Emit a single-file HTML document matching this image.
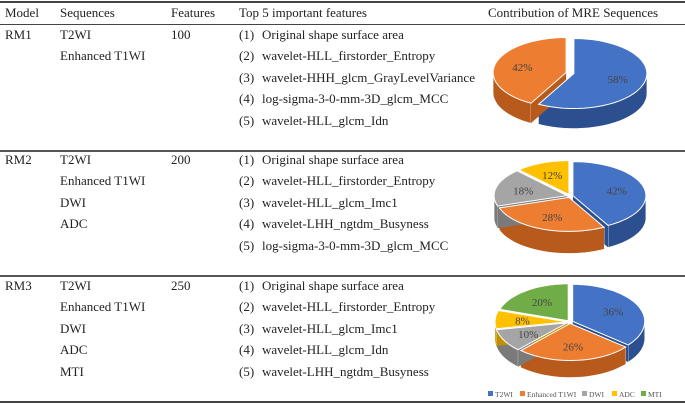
<!DOCTYPE html>
<html><head><meta charset="utf-8">
<style>
body{margin:0;background:#fff;}
#wrap{position:relative;width:685px;height:404px;overflow:hidden;font-family:"Liberation Serif",serif;font-size:13px;color:#222;}
.t{position:absolute;white-space:nowrap;line-height:14px;}
.rule{position:absolute;left:0;width:685px;background:#444;}
svg{position:absolute;left:0;top:0;}
</style></head><body>
<div id="wrap">
<div class="rule" style="top:1px;height:2px;"></div>
<div class="rule" style="top:24px;height:1px;"></div>
<div class="rule" style="top:150px;height:2px;background:#555"></div>
<div class="rule" style="top:275px;height:2px;background:#555"></div>
<div class="rule" style="top:401px;height:2px;"></div>
<div id="txt"></div>
<svg id="pies" width="685" height="404"></svg>
</div>
<script>
const headers=[["Model",5],["Sequences",60],["Features",171],["Top 5 important features",239],["Contribution of MRE Sequences",488]];
const models=["RM1","RM2","RM3"];
const featureCounts=["100","200","250"];
const sequences=[["T2WI","Enhanced T1WI"],["T2WI","Enhanced T1WI","DWI","ADC"],["T2WI","Enhanced T1WI","DWI","ADC","MTI"]];
const topFeatures=[
["Original shape surface area","wavelet-HLL_firstorder_Entropy","wavelet-HHH_glcm_GrayLevelVariance","log-sigma-3-0-mm-3D_glcm_MCC","wavelet-HLL_glcm_Idn"],
["Original shape surface area","wavelet-HLL_firstorder_Entropy","wavelet-HLL_glcm_Imc1","wavelet-LHH_ngtdm_Busyness","log-sigma-3-0-mm-3D_glcm_MCC"],
["Original shape surface area","wavelet-HLL_firstorder_Entropy","wavelet-HLL_glcm_Imc1","wavelet-HLL_glcm_Idn","wavelet-LHH_ngtdm_Busyness"]];
const seqNames=["T2WI","Enhanced T1WI","DWI","ADC","MTI"];
const pie1=[58,42];
const pie2=[42,28,18,12];
const pie3=[36,26,10,8,20];

const txt=document.getElementById('txt');
function addT(s,x,y,name,extra){
  const d=document.createElement('div');d.className='t';d.textContent=s;
  d.style.left=x+'px';d.style.top=y+'px';if(extra)d.style.cssText+=extra;
  
  
  txt.appendChild(d);
}
headers.forEach(h=>addT(h[0],h[1],6,'header-'+h[0].toLowerCase().replace(/\s+/g,'-')));
const rowTop=[28,153,279];const step=21.4;
models.forEach((m,i)=>{
  addT(m,5,rowTop[i],'model-'+m.toLowerCase());
  addT(featureCounts[i],171,rowTop[i],'features-'+m.toLowerCase());
  sequences[i].forEach((s,j)=>addT(s,60,rowTop[i]+j*step,'sequence-'+m.toLowerCase()+'-'+(j+1)));
  topFeatures[i].forEach((f,j)=>{
    addT('('+(j+1)+')',239,rowTop[i]+j*step,'feature-num-'+m.toLowerCase()+'-'+(j+1));
    addT(f,262,rowTop[i]+j*step,'feature-'+m.toLowerCase()+'-'+(j+1));
  });
});

const colors=["#4472C4","#ED7D31","#A5A5A5","#FFC000","#70AD47"];
const sides=["#2c4f8f","#b85a1c","#7a7a7a","#c09000","#4f8030"];
const svg=document.getElementById('pies');const NS='http://www.w3.org/2000/svg';
function el(t,a){const e=document.createElementNS(NS,t);for(const k in a)e.setAttribute(k,a[k]);svg.appendChild(e);return e;}
function drawPie(vals,cx,cy,rx,ry,depth,explode,id){
  const tot=vals.reduce((a,b)=>a+b,0);let a=0;const sl=[];
  vals.forEach((v,i)=>{const a0=a,a1=a+v/tot*360;a=a1;const m=(a0+a1)/2*Math.PI/180;
    sl.push({i,a0,a1,ox:explode*Math.sin(m),oy:-explode*0.5*Math.cos(m),v});});
  const P=(s,deg,dy)=>{const r=deg*Math.PI/180;return [cx+s.ox+rx*Math.sin(r),cy+s.oy-ry*Math.cos(r)+(dy||0)];};
  sl.forEach(s=>{
    const lo=Math.max(s.a0,90),hi=Math.min(s.a1,270);
    if(hi>lo){
      let d='';const n=30;
      for(let k=0;k<=n;k++){const p=P(s,lo+(hi-lo)*k/n);d+=(k?'L':'M')+p[0].toFixed(1)+','+p[1].toFixed(1);}
      for(let k=n;k>=0;k--){const p=P(s,lo+(hi-lo)*k/n,depth);d+='L'+p[0].toFixed(1)+','+p[1].toFixed(1);}
      const e=el('path',{d:d+'Z',fill:sides[s.i],stroke:'#fff','stroke-width':0.5});
      
      
    }
    [s.a0,s.a1].forEach(ang=>{
      const c=[cx+s.ox,cy+s.oy],p=P(s,ang);
      if(Math.cos(ang*Math.PI/180)<0.2){
      const e=el('path',{d:`M${c[0]},${c[1]}L${p[0]},${p[1]}L${p[0]},${p[1]+depth}L${c[0]},${c[1]+depth}Z`,fill:sides[s.i]});
      
      }});
  });
  sl.forEach(s=>{
    const c=[cx+s.ox,cy+s.oy];let d='M'+c[0]+','+c[1];const n=40;
    for(let k=0;k<=n;k++){const p=P(s,s.a0+(s.a1-s.a0)*k/n);d+='L'+p[0].toFixed(1)+','+p[1].toFixed(1);}
    const e=el('path',{d:d+'Z',fill:colors[s.i],stroke:'#fff','stroke-width':1});
    
    
    const m=(s.a0+s.a1)/2*Math.PI/180;
    const t=el('text',{x:c[0]+rx*0.62*Math.sin(m),y:c[1]-ry*0.62*Math.cos(m)+4,'text-anchor':'middle','font-family':'Liberation Serif, serif','font-size':11,fill:'#444'});
    t.textContent=s.v+'%';
    
    
  });
}
drawPie(pie1,570,73,73,35,20,4,'pie-rm1');
drawPie(pie2,570,196,73,34,22,3,'pie-rm2');
drawPie(pie3,570,322,72,37,17,3,'pie-rm3');
const lx=[488,520,582,612,641];
seqNames.forEach((n,i)=>{
  const r=el('rect',{x:lx[i],y:391,width:5,height:5,fill:colors[i]});
  
  
  const t=el('text',{x:lx[i]+7,y:397,'font-family':'Liberation Serif, serif','font-size':7.5,fill:'#555'});
  t.textContent=n;
  
  
});
</script>
</body></html>
